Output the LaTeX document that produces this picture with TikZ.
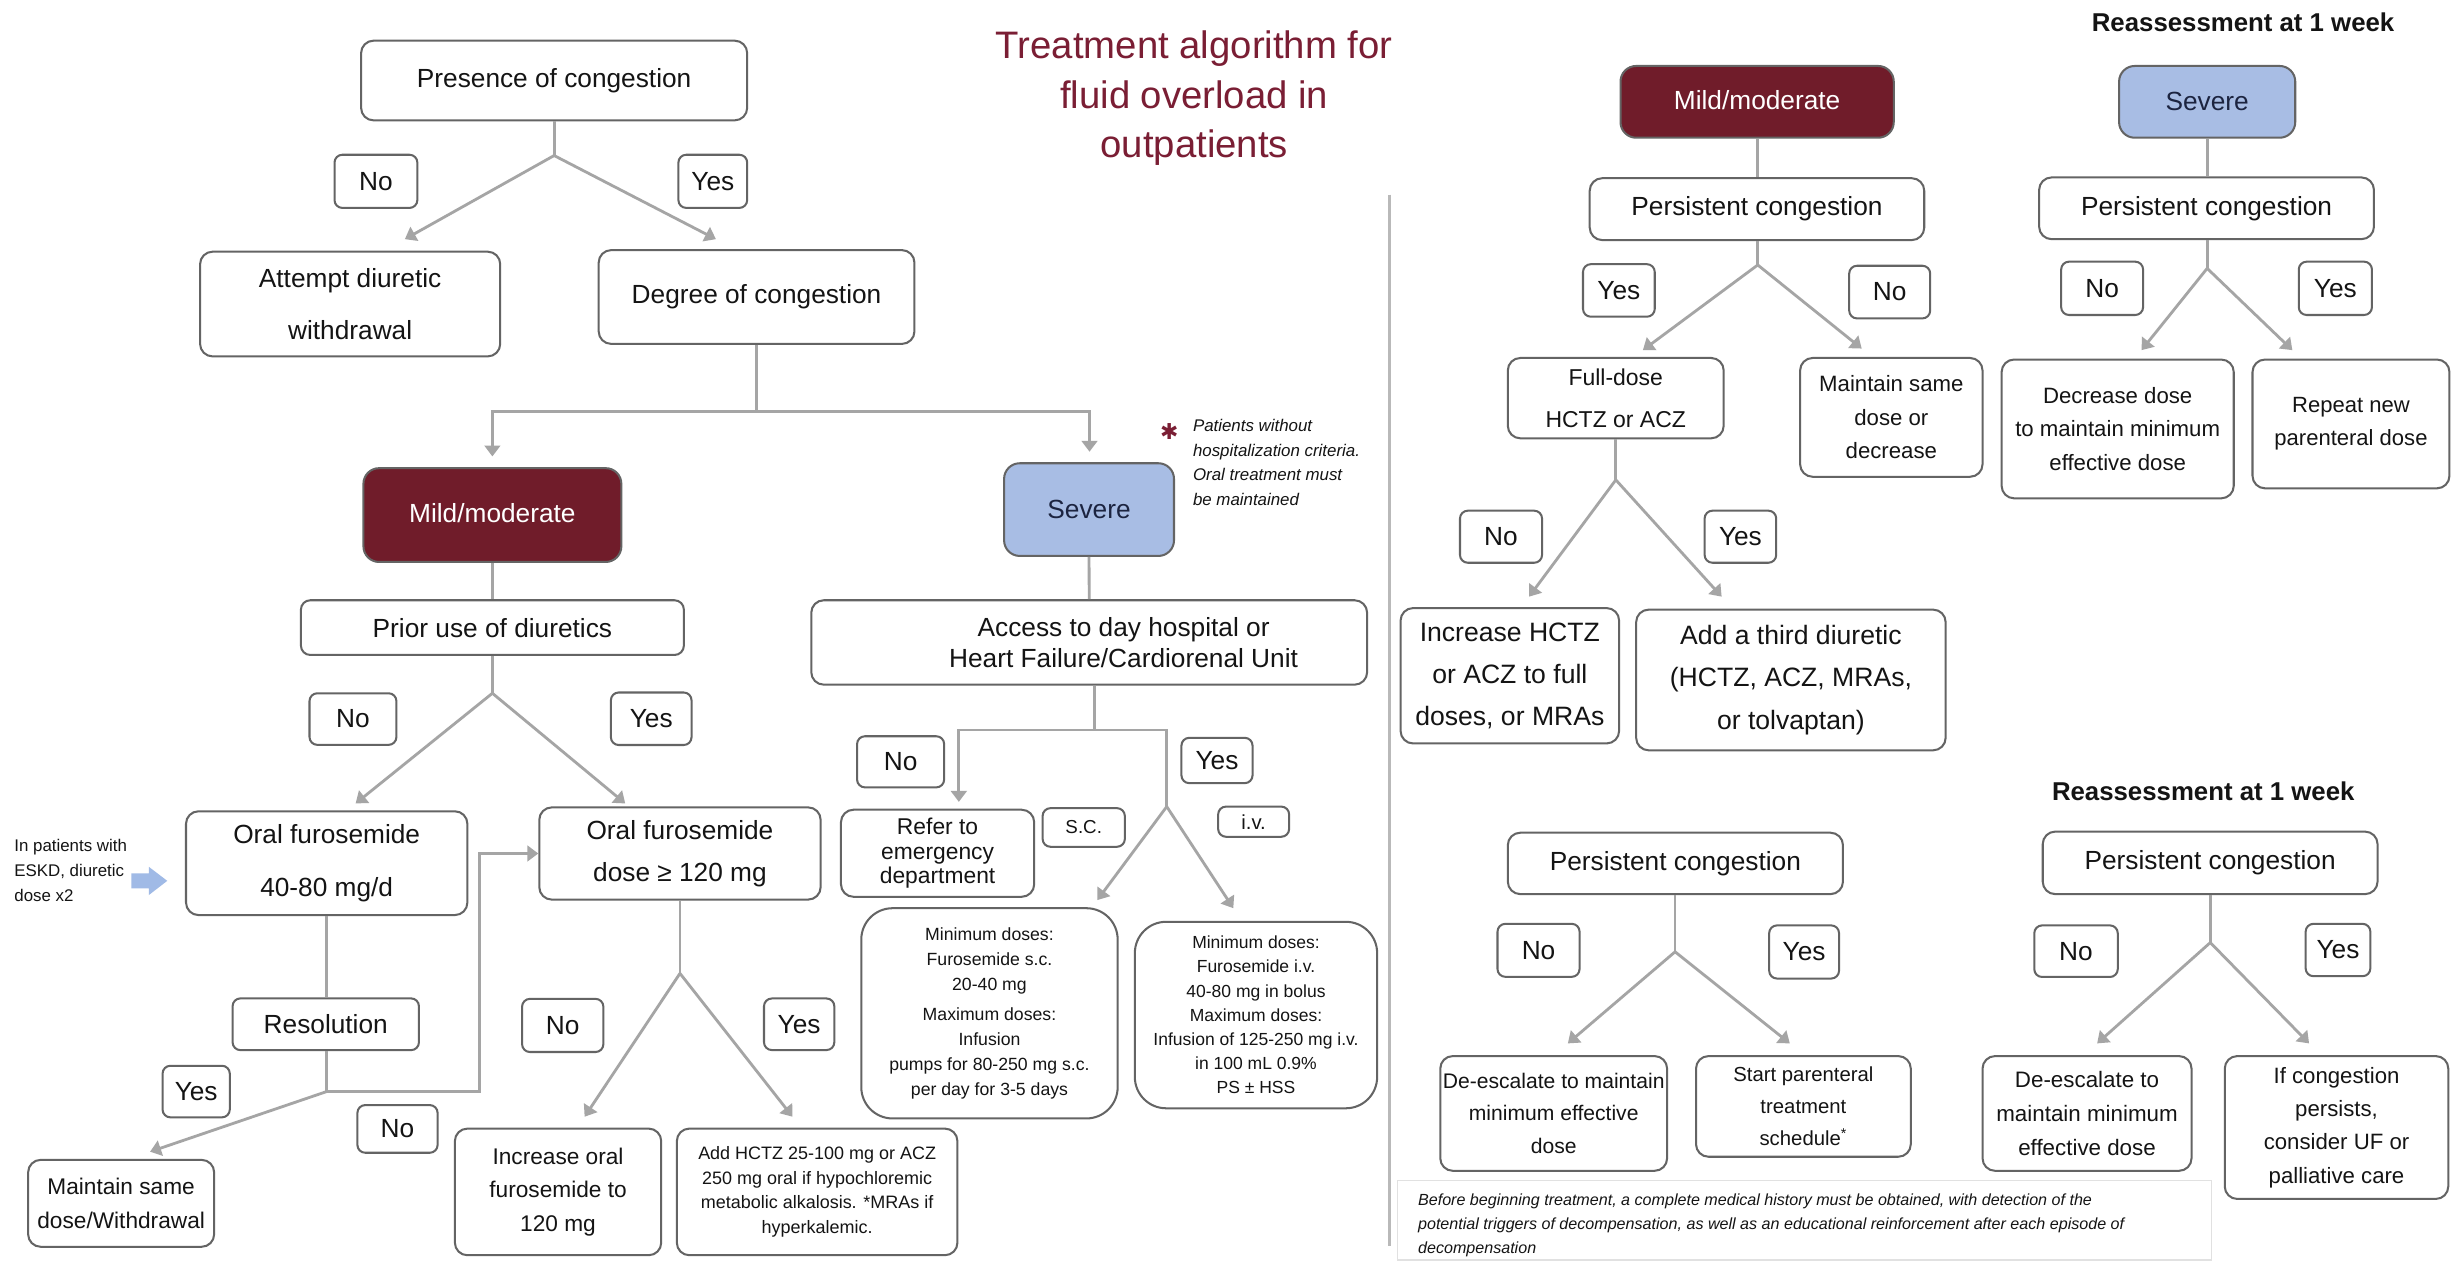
\documentclass[tikz,border=0pt]{standalone}
\usepackage{fontspec}
\setmainfont{Liberation Sans}
\newfontfamily\djv{DejaVu Sans}
\usetikzlibrary{arrows.meta}
\definecolor{linegray}{RGB}{165,165,165}
\definecolor{bordergray}{RGB}{100,100,100}
\definecolor{txt}{RGB}{20,20,20}
\definecolor{maroonfill}{RGB}{112,28,42}
\definecolor{titlered}{RGB}{122,30,52}
\definecolor{sevblue}{RGB}{168,189,228}
\definecolor{navy}{RGB}{28,36,64}
\definecolor{arrowblue}{RGB}{160,186,230}
\definecolor{divgray}{RGB}{185,185,185}
\definecolor{notegray}{RGB}{225,225,225}
\newcommand\fsz[2]{\fontsize{#1}{#2}\selectfont}
\newcommand\nb[7]{\node[#1, minimum width=#5pt, minimum height=#6pt] (#2) at (#3,#4) {#7};}
\begin{document}
\begin{tikzpicture}[x=1pt,y=-1pt,
 box/.style={draw=bordergray, line width=1.3pt, rounded corners=8pt, fill=white, align=center, inner sep=0pt, text=txt, font=\fsz{16.8}{20}},
 lbl/.style={box, rounded corners=5pt},
 mildbox/.style={box, fill=maroonfill, text=white, rounded corners=10pt},
 sevbox/.style={box, fill=sevblue, text=navy, rounded corners=10pt},
 conn/.style={draw=linegray, line width=1.8pt},
 arr/.style={conn, -{Triangle[length=7pt,width=10pt]}},
 heading/.style={font=\bfseries\fsz{16.5}{20}, inner sep=0pt, text=txt}]
\useasboundingbox (0,0) rectangle (1568,807);
\fill[white] (0,0) rectangle (1568,807);

% ---------- title ----------
\node[align=center, font=\fsz{24.5}{31.7}, text=titlered, inner sep=0pt] (title) at (764,63) {Treatment algorithm for\\fluid overload in\\outpatients};

% ---------- left panel ----------
\nb{box}{pres}{354.5}{51.5}{247}{51}{Presence of congestion}
\nb{lbl}{noA}{240.5}{116}{53}{34}{No}
\nb{lbl}{yesA}{456}{116}{44}{34}{Yes}
\nb{box,font=\fsz{16.8}{33}}{attempt}{224}{194.5}{192}{67}{Attempt diuretic\\withdrawal}
\nb{box}{degree}{484}{190}{202}{60}{Degree of congestion}
\nb{mildbox}{mildA}{315}{329.5}{165}{60}{\raisebox{3pt}{Mild/moderate}}
\nb{sevbox}{severeA}{696.7}{326}{108.7}{59.3}{Severe}
\nb{box,rounded corners=6pt}{prior}{315}{401.5}{245}{35}{Prior use of diuretics}
\nb{lbl}{noB}{225.8}{460}{55.6}{33}{No}
\nb{lbl}{yesB}{416.6}{459.8}{51.6}{33.6}{Yes}
\nb{box,font=\fsz{16.8}{34.5}}{oralA}{209}{552.2}{180}{66.4}{Oral furosemide\\40-80 mg/d}
\nb{box,font=\fsz{16.8}{26.7}}{oralB}{435}{546}{180}{59}{Oral furosemide\\dose ≥ 120 mg}
\nb{lbl}{resol}{208.4}{655.25}{119.2}{33.1}{Resolution}
\nb{lbl}{yesC}{125.5}{698.3}{43}{33}{Yes}
\nb{lbl}{noC}{254.3}{722.2}{51.3}{30.5}{No}
\nb{box,font=\fsz{14.5}{21.4}}{maintain}{77.5}{769.8}{119}{55.6}{Maintain same\\dose/Withdrawal}
\nb{lbl}{noD}{360}{656}{52}{34}{No}
\nb{lbl}{yesD}{511.25}{655.25}{45}{33}{Yes}
\nb{box,font=\fsz{14.5}{21.4}}{increase}{357}{762.5}{132}{81}{Increase oral\\furosemide to\\120 mg}
\nb{box,font=\fsz{11.5}{15.6}}{addh}{522.75}{762.5}{179.5}{81}{Add HCTZ 25-100 mg or ACZ\\250 mg oral if hypochloremic\\metabolic alkalosis. *MRAs if\\hyperkalemic.}

\node[anchor=north west, align=left, font=\fsz{10.8}{16}, text=txt, inner sep=0pt] (eskd) at (9,537) {In patients with\\ESKD, diuretic\\dose x2};
\fill[arrowblue] (84,558.7) -- (95.2,558.7) -- (95.2,554.5) -- (107,563.5) -- (95.2,572.6) -- (95.2,568.3) -- (84,568.3) -- cycle;

% severe branch
\node[font=\djv\fsz{14}{14}, text=titlered, inner sep=0pt] (ast) at (748,276) {✱};
\node[anchor=north west, align=left, font=\itshape\fsz{10.8}{15.7}, text=txt, inner sep=0pt] (sevnote) at (763,268) {Patients without\\hospitalization criteria.\\Oral treatment must\\be maintained};
\nb{box,font=\fsz{16.8}{20}}{access}{696.8}{411}{355.6}{54}{\hspace*{44pt}Access to day hospital or\\\hspace*{44pt}Heart Failure/Cardiorenal Unit}
\nb{lbl}{noE}{576.15}{487.35}{55.7}{32.7}{No}
\nb{lbl}{yesE}{778.55}{486.5}{45.5}{29}{Yes}
\nb{box,font=\fsz{14.6}{15.5}}{refer}{599.8}{545.85}{123.6}{55.7}{Refer to\\emergency\\department}
\nb{lbl,font=\fsz{12}{14}}{sc}{693.3}{529.35}{52.6}{24.7}{S.C.}
\nb{lbl,font=\fsz{13}{14}}{iv}{802}{525.65}{45.4}{19.3}{i.v.}
\nb{box,rounded corners=20pt,font=\fsz{11.3}{16}}{scmin}{633}{648.25}{164}{134.5}{Minimum doses:\\Furosemide s.c.\\20-40 mg\\[3pt]Maximum doses:\\Infusion\\pumps for 80-250 mg s.c.\\per day for 3-5 days}
\nb{box,rounded corners=20pt,font=\fsz{11.2}{15.5}}{ivmin}{803.5}{649.35}{155}{119.3}{Minimum doses:\\Furosemide i.v.\\40-80 mg in bolus\\Maximum doses:\\Infusion of 125-250 mg i.v.\\in 100 mL 0.9\%\\PS ± HSS}

% connectors left panel
\coordinate (sA) at (354.5,99.5);
\coordinate (tA1) at (259,153);
\coordinate (tA2) at (458,153);
\draw[conn] (pres.south) -- (sA);
\draw[arr] (sA) -- (tA1);
\draw[arr] (sA) -- (tA2);
\coordinate (jB) at (484,263.4);
\coordinate (tMild) at (315,292);
\coordinate (tSev) at (697,289);
\draw[conn] (degree.south) -- (jB);
\draw[arr] (jB) -| (tMild);
\draw[arr] (jB) -| (tSev);
\draw[conn] (mildA.south) -- (prior.north);
\coordinate (sB) at (315,443.5);
\coordinate (tB1) at (227.5,514);
\coordinate (tB2) at (400,514);
\draw[conn] (prior.south) -- (sB);
\draw[arr] (sB) -- (tB1);
\draw[arr] (sB) -- (tB2);
\draw[conn] (oralA.south) -- (oralA.south |- resol.north);
\coordinate (sC) at (208.7,698.4);
\coordinate (kC) at (307,546);
\coordinate (tC) at (96,736.8);
\draw[conn] (resol.south -| sC) -- (sC);
\draw[arr] (sC) -| (kC) -- (oralB.west);
\draw[arr] (sC) -- (tC);
\coordinate (sD) at (435,622.7);
\coordinate (tD1) at (374,714.4);
\coordinate (tD2) at (507,714.4);
\draw[conn] (oralB.south) -- (sD);
\draw[arr] (sD) -- (tD1);
\draw[arr] (sD) -- (tD2);
\draw[conn] (severeA.south) -- (access.north);
\coordinate (jE) at (700,467);
\coordinate (tE1) at (613.4,513);
\coordinate (sE) at (746.4,516);
\coordinate (tE2) at (702,575.8);
\coordinate (tE3) at (789,581);
\draw[conn] (access.south -| jE) -- (jE);
\draw[arr] (jE) -| (tE1);
\draw[conn] (jE) -| (sE);
\draw[arr] (sE) -- (tE2);
\draw[arr] (sE) -- (tE3);

% divider
\coordinate (dv1) at (889,124.5);
\coordinate (dv2) at (889,797);
\draw[divgray, line width=1.5pt] (dv1) -- (dv2);

% ---------- right panel ----------
\node[heading] (re1) at (1435,14.5) {Reassessment at 1 week};
\nb{mildbox}{mildR}{1124.1}{65.15}{174.8}{45.9}{\raisebox{2pt}{Mild/moderate}}
\nb{sevbox}{severeR}{1412}{65.15}{112.7}{45.9}{Severe}
\nb{box}{persR1}{1124}{133.8}{214}{39.6}{Persistent congestion}
\nb{box}{persR2}{1411.6}{133.25}{214.2}{39.5}{Persistent congestion}
\nb{lbl}{yesF}{1035.65}{185.8}{45.9}{33.6}{Yes}
\nb{lbl}{noF}{1208.9}{186.85}{51.8}{33.7}{No}
\nb{box,font=\fsz{14.7}{27}}{fulldose}{1033.65}{254.7}{138.1}{51.4}{Full-dose\\HCTZ or ACZ}
\nb{box,font=\fsz{14.2}{21.5}}{maintainR}{1209.95}{267}{116.7}{76}{Maintain same\\dose or\\decrease}
\nb{lbl}{noG}{1344.8}{184.45}{52.4}{34.1}{No}
\nb{lbl}{yesG}{1494}{184.45}{46.8}{34.1}{Yes}
\nb{box,font=\fsz{14.2}{21.2}}{decrease}{1354.75}{274.4}{148.5}{88.8}{Decrease dose\\to maintain minimum\\effective dose}
\nb{box,font=\fsz{14.1}{21}}{repeat}{1504}{271.2}{126}{82.4}{Repeat new\\parenteral dose}
\nb{lbl}{noH}{960.25}{343.35}{52.5}{33.3}{No}
\nb{lbl}{yesH}{1113.4}{343.35}{45.8}{33.3}{Yes}
\nb{box,font=\fsz{17}{27}}{increaseR}{965.9}{432.3}{139.8}{86.6}{Increase HCTZ\\or ACZ to full\\doses, or MRAs}
\nb{box,font=\fsz{17}{27}}{addthird}{1145.7}{435}{198}{90}{Add a third diuretic\\(HCTZ, ACZ, MRAs,\\or tolvaptan)}

\node[heading] (re2) at (1409.5,505.9) {Reassessment at 1 week};
\nb{box}{persR3}{1071.8}{552.35}{214.4}{39.3}{Persistent congestion}
\nb{box}{persR4}{1413.9}{552}{214.2}{40}{Persistent congestion}
\nb{lbl}{noI}{984.25}{607.95}{52.5}{33.9}{No}
\nb{lbl}{yesI}{1154.15}{609}{44.7}{34}{Yes}
\nb{lbl}{noJ}{1328.1}{608.5}{53.4}{33}{No}
\nb{lbl}{yesJ}{1495.7}{607.75}{41.4}{33.5}{Yes}
\nb{box,font=\fsz{13.5}{21}}{deesc1}{993.95}{712.3}{145.1}{73.4}{De-escalate to maintain\\minimum effective\\dose}
\nb{box,font=\fsz{13}{20.5}}{startpar}{1153.7}{707.8}{137.4}{64.4}{Start parenteral\\treatment\\schedule\textsuperscript{*}}
\nb{box,font=\fsz{14.3}{21.5}}{deesc2}{1335.15}{712.3}{133.7}{73.4}{De-escalate to\\maintain minimum\\effective dose}
\nb{box,font=\fsz{14.2}{21.4}}{ifcong}{1494.75}{721.3}{143}{91.4}{If congestion\\persists,\\consider UF or\\palliative care}

\node[draw=notegray, line width=0.8pt, minimum width=521pt, minimum height=50.7pt, inner sep=0pt] (footbox) at (1154.5,780.65) {};
\node[anchor=north west, align=left, font=\itshape\fsz{10.3}{15.4}, text=txt, inner sep=0pt] (foot) at (907,763.5) {Before beginning treatment, a complete medical history must be obtained, with detection of the\\potential triggers of decompensation, as well as an educational reinforcement after each episode of\\decompensation};

% connectors right panel
\draw[conn] (mildR.south) -- (persR1.north -| mildR.south);
\draw[conn] (severeR.south) -- (persR2.north -| severeR.south);
\coordinate (sF) at (1124.5,169.5);
\coordinate (tF1) at (1051,224);
\coordinate (tF2) at (1191,223);
\draw[conn] (persR1.south -| sF) -- (sF);
\draw[arr] (sF) -- (tF1);
\draw[arr] (sF) -- (tF2);
\coordinate (sG) at (1412,171.7);
\coordinate (tG1) at (1370,224);
\coordinate (tG2) at (1466.5,224);
\draw[conn] (persR2.south -| sG) -- (sG);
\draw[arr] (sG) -- (tG1);
\draw[arr] (sG) -- (tG2);
\coordinate (sH) at (1033.7,307);
\coordinate (tH1) at (978.2,381.7);
\coordinate (tH2) at (1101.4,381.7);
\draw[conn] (fulldose.south -| sH) -- (sH);
\draw[arr] (sH) -- (tH1);
\draw[arr] (sH) -- (tH2);
\coordinate (sI) at (1071.6,608.9);
\coordinate (tI1) at (1003,667.5);
\coordinate (tI2) at (1145,667.5);
\draw[conn] (persR3.south -| sI) -- (sI);
\draw[arr] (sI) -- (tI1);
\draw[arr] (sI) -- (tI2);
\coordinate (sJ) at (1414,603);
\coordinate (tJ1) at (1341.6,667.5);
\coordinate (tJ2) at (1477.2,667.5);
\draw[conn] (persR4.south -| sJ) -- (sJ);
\draw[arr] (sJ) -- (tJ1);
\draw[arr] (sJ) -- (tJ2);
\end{tikzpicture}
\end{document}
